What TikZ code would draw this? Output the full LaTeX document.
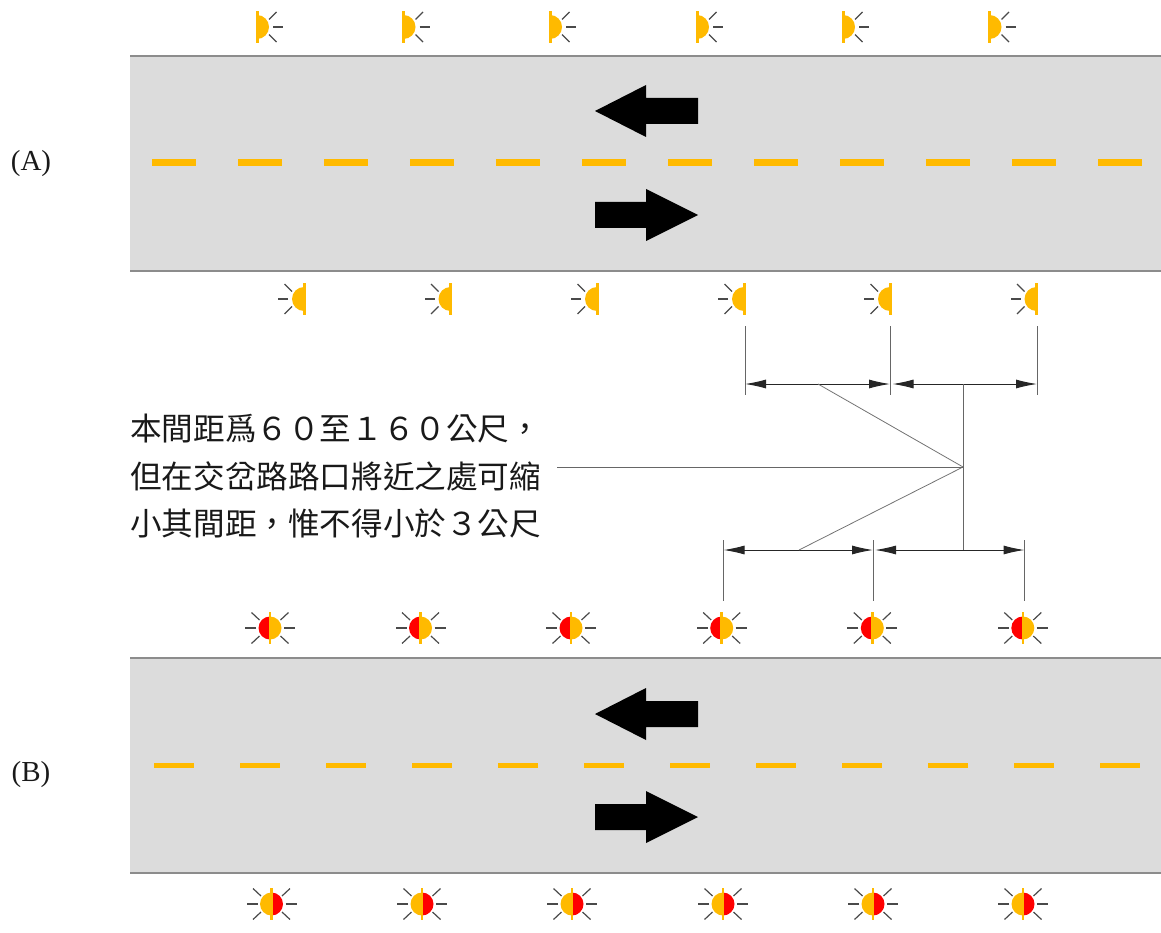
\documentclass[tikz,border=0pt]{standalone}
\usepackage{fontspec}
\setmainfont{Liberation Serif}
\newfontfamily\cjkfont{Noto Sans CJK TC}
\usetikzlibrary{arrows.meta}
\definecolor{amber}{HTML}{FFBA00}
\definecolor{roadgrey}{HTML}{DCDCDC}
\definecolor{edgegrey}{HTML}{8C8C8C}
\definecolor{raygrey}{HTML}{4A4A4A}
\tikzset{
  x=1pt,y=-1pt,
  road/.style={fill=roadgrey,draw=none},
  roadedge/.style={draw=edgegrey,line width=1.3pt},
  roaddash/.style={draw=amber,line width=#1},
  bigarrow/.style={fill=black,draw=none},
  ray/.style={draw=raygrey,line width=1.2pt},
  ext/.style={draw=black!60,line width=1pt},
  dimarrow/.style={draw=black!85,line width=1pt,{Latex[length=21pt,width=9pt]}-{Latex[length=21pt,width=9pt]}},
  lead/.style={draw=black!55,line width=.8pt},
  note/.style={font=\cjkfont\fontsize{31.6}{31.6}\selectfont,anchor=west,inner sep=0pt,text=black!90},
  lbl/.style={font=\fontsize{29}{29}\selectfont,inner sep=0pt,text=black!90},
}
% half lamp, flat side at x; #3=1 rays right, -1 rays left
\newcommand{\halflamp}[3]{%
  \begin{scope}[shift={(#1,#2)},xscale=#3]
    \fill[amber] (0,-12) arc[start angle=-90,end angle=90,radius=12] -- cycle;
    \fill[amber] (-1.5,-16) rectangle (1.5,16);
    \draw[ray] (12,-7.5) -- (19.5,-15);
    \draw[ray] (16,0) -- (26,0);
    \draw[ray] (12,7.5) -- (19.5,15);
  \end{scope}}
% full lamp: #3=1 red on the left, -1 red on the right
\newcommand{\fulllamp}[3]{%
  \begin{scope}[shift={(#1,#2)},xscale=#3]
    \fill[red] (0,-11.5) arc[start angle=-90,end angle=-270,radius=11.5] -- cycle;
    \fill[amber] (0,-11.5) arc[start angle=-90,end angle=90,radius=11.5] -- cycle;
    \fill[amber] (-1.3,-16) rectangle (1.3,16);
    \foreach \s in {1,-1}{
      \draw[ray] (\s*14,0) -- (\s*25,0);
      \draw[ray] (\s*10.5,-8) -- (\s*18.5,-15.5);
      \draw[ray] (\s*10.5,8) -- (\s*18.5,15.5);
    }
  \end{scope}}
\newcommand{\leftarrowshape}[1]{%
  \fill[bigarrow] (595,#1) -- (646,#1-26) -- (646,#1-13) -- (698,#1-13) -- (698,#1+13) -- (646,#1+13) -- (646,#1+26) -- cycle;}
\newcommand{\rightarrowshape}[1]{%
  \fill[bigarrow] (698,#1) -- (646,#1-26) -- (646,#1-13) -- (595,#1-13) -- (595,#1+13) -- (646,#1+13) -- (646,#1+26) -- cycle;}
\begin{document}
\begin{tikzpicture}
\useasboundingbox (0,0) rectangle (1161,933);
% roads
\fill[road] (130,56) rectangle (1161,271);
\draw[roadedge] (130,56) -- (1161,56);
\draw[roadedge] (130,271) -- (1161,271);
\fill[road] (130,658) rectangle (1161,873);
\draw[roadedge] (130,658) -- (1161,658);
\draw[roadedge] (130,873) -- (1161,873);
% centre dashes
\foreach \i in {0,...,11}{
  \draw[roaddash=7pt] ({152+86*\i},162.5) -- ({196+86*\i},162.5);
  \draw[roaddash=5pt] ({154+86*\i},765) -- ({194+86*\i},765);
}
% direction arrows
\leftarrowshape{111}
\rightarrowshape{215}
\leftarrowshape{714}
\rightarrowshape{817}
% lamps
\foreach \x in {257,403.5,550,697,843,989.5}{\halflamp{\x}{27}{1}}
\foreach \x in {304,450.5,597,744,890,1036.5}{\halflamp{\x}{299}{-1}}
\foreach \x in {270,420.5,571,721.7,872.3,1022.8}{\fulllamp{\x}{628}{1}}
\foreach \x in {271.5,422,572,723,873,1023}{\fulllamp{\x}{904}{-1}}
% labels
\node[lbl] (labelA) at (31,164) {(A)};
\node[lbl] (labelB) at (31,775) {(B)};
\node[note] (note1) at (130,429) {本間距爲６０至１６０公尺，};
\node[note] (note2) at (130,476.5) {但在交岔路路口將近之處可縮};
\node[note] (note3) at (130,523) {小其間距，惟不得小於３公尺};
% dimension coordinates
\coordinate (t1a) at (745,326); \coordinate (t1b) at (745,395); \coordinate (t1) at (745,384);
\coordinate (t2a) at (890.7,326); \coordinate (t2b) at (890.7,395); \coordinate (t2) at (890,384); \coordinate (t2r) at (892.5,384);
\coordinate (t3a) at (1037,326); \coordinate (t3b) at (1037,395); \coordinate (t3) at (1037,384);
\coordinate (b1a) at (723,540); \coordinate (b1b) at (723,601); \coordinate (b1) at (723.5,550);
\coordinate (b2a) at (873.7,540); \coordinate (b2b) at (873.7,601); \coordinate (b2) at (873,550); \coordinate (b2r) at (875,550);
\coordinate (b3a) at (1024.5,540); \coordinate (b3b) at (1024.5,601); \coordinate (b3) at (1024.5,550);
\coordinate (hub) at (963,467);
\coordinate (vt) at (963.7,384); \coordinate (vb) at (963.7,550);
\coordinate (lt) at (818,384); \coordinate (lb) at (799,550); \coordinate (ln) at (557,467);
\foreach \a/\b in {t1a/t1b,t2a/t2b,t3a/t3b,b1a/b1b,b2a/b2b,b3a/b3b}{\draw[ext] (\a) -- (\b);}
\draw[dimarrow] (t1) -- (t2);
\draw[dimarrow] (t2r) -- (t3);
\draw[dimarrow] (b1) -- (b2);
\draw[dimarrow] (b2r) -- (b3);
\draw[ext] (vt) -- (vb);
\draw[lead] (lt) -- (hub);
\draw[lead] (lb) -- (hub);
\draw[ext] (ln) -- (hub);
\end{tikzpicture}
\end{document}
